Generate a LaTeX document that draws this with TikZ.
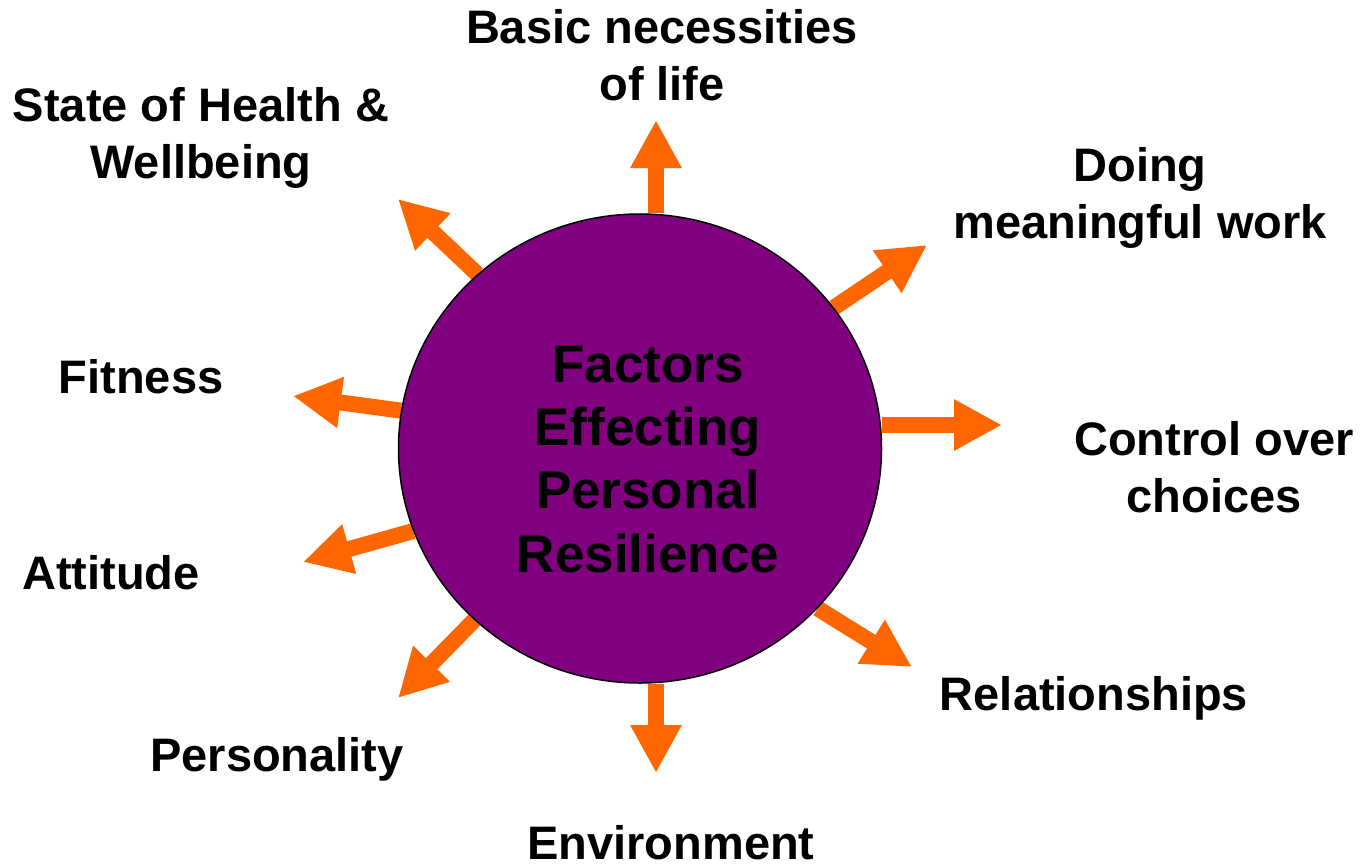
\documentclass[tikz,border=0pt]{standalone}
\usepackage{fontspec}
\setmainfont{Liberation Sans}
\usetikzlibrary{arrows.meta,shapes.geometric,backgrounds}
\definecolor{arrowor}{HTML}{FF6600}
\definecolor{hubpurple}{HTML}{800080}
\tikzset{
  lbl/.style={font=\bfseries\fontsize{47}{57}\selectfont, align=center, inner sep=0pt, anchor=base},
  titletext/.style={font=\bfseries\fontsize{53}{63.3}\selectfont, align=center, inner sep=0pt, anchor=base},
  hubstyle/.style={ellipse, draw=black, line width=1.5pt, fill=hubpurple, minimum width=483pt, minimum height=469pt, inner sep=0pt},
  blockarrow/.style={draw=arrowor, line width=16pt, -{Triangle[width=48pt,length=48pt]}}
}
\begin{document}
\begin{tikzpicture}[x=1pt,y=-1pt]
\useasboundingbox (0,0) rectangle (1368,865);
\node[hubstyle] (hub) at (640,448.5) {};
\node[titletext] (title) at (648,572) {Factors\\Effecting\\Personal\\Resilience};

\node[lbl] (basic) at (662,100) {Basic necessities\\of life};
\node[lbl] (health) at (201,178) {State of Health \&\\Wellbeing};
\node[lbl] (work) at (1140,238) {Doing\\meaningful work};
\node[lbl] (fitness) at (141,393) {Fitness};
\node[lbl] (control) at (1214,512) {Control over\\choices};
\node[lbl] (attitude) at (111,589) {Attitude};
\node[lbl] (relation) at (1094,710) {Relationships};
\node[lbl] (personality) at (277,771) {Personality};
\node[lbl] (environment) at (671,859) {Environment};

\coordinate (tBasic) at (656,120);
\coordinate (tHealth) at (398,199);
\coordinate (tWork) at (927,245);
\coordinate (tControl) at (1002,425);
\coordinate (tFitness) at (293,396);
\coordinate (tAttitude) at (303,562);
\coordinate (tPersonality) at (398,698);
\coordinate (tEnvironment) at (656,773);
\coordinate (tRelation) at (912,667);

\begin{scope}[on background layer]
\draw[blockarrow] (tBasic |- hub.north) -- (tBasic);
\draw[blockarrow] (hub.133.7) -- (tHealth);
\draw[blockarrow] (hub.36.1) -- (tWork);
\draw[blockarrow] (hub.east |- tControl) -- (tControl);
\draw[blockarrow] (hub.171) -- (tFitness);
\draw[blockarrow] (hub.200) -- (tAttitude);
\draw[blockarrow] (hub.226.3) -- (tPersonality);
\draw[blockarrow] (tEnvironment |- hub.south) -- (tEnvironment);
\draw[blockarrow] (hub.318.8) -- (tRelation);
\end{scope}
\end{tikzpicture}
\end{document}
